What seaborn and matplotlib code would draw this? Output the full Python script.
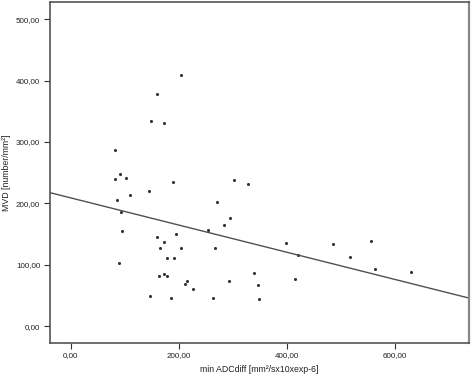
import seaborn as sns
import matplotlib.pyplot as plt
import pandas as pd
from matplotlib.ticker import FuncFormatter

# min ADCdiff values (x) and MVD values (y)
adc = [204.1, 159.1, 149.1, 172.1, 82.5, 91.8, 82.0, 101.8, 189.3, 301.6,
       327.5, 144.3, 109.2, 85.1, 270.1, 92.5, 294.2, 283.1, 253.5, 94.4,
       160.2, 195.4, 173.2, 165.2, 203.5, 267.0, 178.7, 190.6, 88.8, 173.2,
       177.6, 163.4, 338.6, 214.6, 212.0, 292.3, 346.0, 225.7, 147.3, 186.1,
       262.7, 347.8, 398.9, 420.5, 485.8, 555.0, 515.8, 563.4, 629.6, 414.4]
mvd = [408.7, 378.2, 334.2, 330.9, 286.9, 247.8, 239.2, 241.3, 234.3, 238.7,
       231.5, 220.1, 213.1, 205.4, 202.2, 186.5, 176.7, 165.3, 156.5, 154.4,
       146.2, 150.0, 136.9, 126.7, 126.7, 127.2, 110.9, 110.9, 103.8, 85.9,
       82.2, 82.2, 87.1, 74.0, 69.6, 74.0, 67.5, 61.5, 48.9, 46.8,
       46.8, 45.2, 135.3, 115.7, 133.2, 138.9, 113.1, 92.9, 89.2, 77.8]

xticks = [0, 200, 400, 600]
yticks = [0, 100, 200, 300, 400, 500]

df = pd.DataFrame({"adc": adc, "mvd": mvd})

sns.set_style("white")
plt.rcParams["font.family"] = ["Liberation Sans", "DejaVu Sans"]

fig = plt.figure(figsize=(4.72, 3.77), dpi=100)
ax = fig.add_axes([0.106, 0.091, 0.888, 0.904])
# limits first so the fit line spans the whole frame
ax.set_xlim(-38, 737)
ax.set_ylim(-26.6, 528)

sns.regplot(x="adc", y="mvd", data=df, ax=ax, ci=None, truncate=False,
            scatter_kws={"s": 5, "color": "black", "linewidths": 0},
            line_kws={"color": "#505050", "linewidth": 1.0})

ax.set_xlim(-38, 737)
ax.set_ylim(-26.6, 528)
ax.set_xticks(xticks)
ax.set_yticks(yticks)
fmt = FuncFormatter(lambda v, p: f"{v:.2f}".replace(".", ","))
ax.xaxis.set_major_formatter(fmt)
ax.yaxis.set_major_formatter(fmt)

ax.tick_params(axis="both", direction="out", length=4, width=0.8,
               colors="#333333", labelsize=5.8, labelcolor="#222222",
               bottom=True, left=True, pad=3)
for side, sp in ax.spines.items():
    sp.set_color("#555555")
    sp.set_linewidth(1.2)
ax.spines["right"].set_color("#888888")
ax.spines["right"].set_linewidth(1.6)

ax.set_xlabel("min ADCdiff [mm²/sx10xexp-6]", fontsize=6.3, color="#222222", labelpad=4)
ax.set_ylabel("MVD [number/mm²]", fontsize=6.3, color="#222222", labelpad=4)

fig.savefig("out.png", dpi=100)
